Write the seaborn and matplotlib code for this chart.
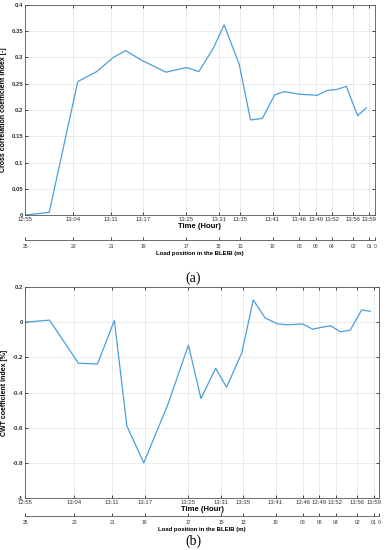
import numpy as np
import pandas as pd
import matplotlib as mpl
mpl.use("Agg")
import matplotlib.pyplot as plt
import seaborn as sns

# minutes after 12:55
minutes = [0, 4.5, 9.8, 13.3, 16.4, 18.7, 21.8, 26.2, 30, 32.3, 35, 37, 39.8, 41.9,
           44.1, 46.4, 48.2, 51, 52.8, 54.3, 56.1, 57.9, 59.7, 61.8, 63.4]
cross_corr = [0.0, 0.005, 0.254, 0.273, 0.300, 0.313, 0.294, 0.272, 0.281, 0.273, 0.318,
              0.362, 0.287, 0.181, 0.184, 0.229, 0.235, 0.230, 0.229, 0.228, 0.237,
              0.239, 0.245, 0.189, 0.204]
cwt_coef = [0.0, 0.012, -0.233, -0.238, 0.01, -0.59, -0.80, -0.47, -0.13, -0.434, -0.262,
            -0.37, -0.174, 0.127, 0.023, -0.01, -0.015, -0.01, -0.04, -0.03, -0.02,
            -0.055, -0.045, 0.07, 0.062]

time_ticks = [0, 9, 16, 22, 30, 36, 40, 46, 51, 54, 57, 61, 64]
time_labels = ["12:55", "13:04", "13:11", "13:17", "13:25", "13:31", "13:35", "13:41",
               "13:46", "13:49", "13:52", "13:56", "13:59"]
pos_ticks = [0, 9, 16, 22, 30, 36, 40, 46, 51, 54, 57, 61, 64, 65]
pos_labels = ["25", "23", "21", "19", "17", "15", "13", "10", "08", "06", "04", "02", "01", "0"]

df = pd.DataFrame({"t": minutes, "cc": cross_corr, "cwt": cwt_coef})

plt.rcParams["font.family"] = ["Liberation Sans", "DejaVu Sans"]
line_col = "#4a9fdc"

fig = plt.figure(figsize=(3.87, 5.5), dpi=100)


def panel(rect, rect2, ycol, yticks, ylabels, ylim, ylabel, cap, cap_y):
    ax = fig.add_axes(rect)
    sns.lineplot(data=df, x="t", y=ycol, ax=ax, color=line_col, linewidth=0.9)
    ax.set_xlim(0, 65)
    ax.set_ylim(*ylim)
    ax.set_xticks(time_ticks)
    ax.set_xticklabels(time_labels, fontsize=4.3, color="#333333")
    ax.set_yticks(yticks)
    ax.set_yticklabels(ylabels, fontsize=4.3, fontweight="bold", color="#333333")
    ax.tick_params(direction="in", length=2, width=0.5, pad=1.5, top=True, right=True)
    ax.grid(True, color="#e3e3e3", linewidth=0.5)
    for s in ax.spines.values():
        s.set_color("#555555")
        s.set_linewidth(0.6)
    ax.set_xlabel("Time (Hour)", fontsize=5.5, fontweight="bold", labelpad=0.5)
    ax.set_ylabel(ylabel, fontsize=5, fontweight="bold", labelpad=3)

    ax2 = fig.add_axes(rect2)
    ax2.set_xlim(0, 65)
    ax2.set_yticks([])
    for k in ["top", "left", "right"]:
        ax2.spines[k].set_visible(False)
    ax2.spines["bottom"].set_color("#555555")
    ax2.spines["bottom"].set_linewidth(0.6)
    ax2.patch.set_alpha(0)
    ax2.set_xticks(pos_ticks)
    ax2.set_xticklabels(pos_labels, fontsize=3.6, color="#333333")
    ax2.tick_params(direction="in", length=2, width=0.5, pad=3)
    ax2.set_xlabel("Load position in the BLEIB (m)", fontsize=4.3, fontweight="bold", labelpad=1)
    fig.text(0.5, cap_y, cap, ha="center", va="center", fontsize=10,
             family=["Liberation Serif", "DejaVu Serif"])
    return ax


panel([0.0646, 0.609, 0.904, 0.382], [0.0646, 0.5636, 0.904, 0.001],
      "cc", np.arange(0, 0.401, 0.05),
      ["0", "0.05", "0.1", "0.15", "0.2", "0.25", "0.3", "0.35", "0.4"], (0, 0.4),
      "Cross correlation coefficient index [-]", "(a)", 1 - 278 / 550)

panel([0.0646, 0.0945, 0.915, 0.3836], [0.0646, 0.0618, 0.915, 0.001],
      "cwt", np.arange(-1, 0.201, 0.2),
      ["-1", "-0.8", "-0.6", "-0.4", "-0.2", "0", "0.2"], (-1, 0.2),
      "CWT coefficient index [%]", "(b)", 1 - 541 / 550)

fig.savefig("out.png", dpi=100)
